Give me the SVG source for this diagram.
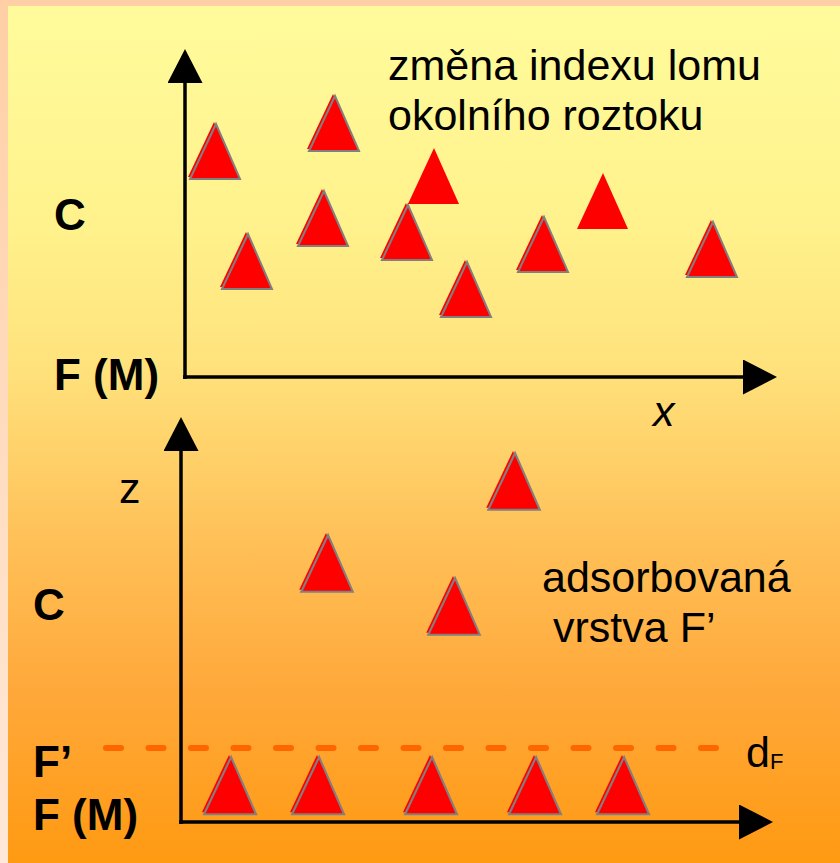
<svg xmlns="http://www.w3.org/2000/svg" xmlns:xlink="http://www.w3.org/1999/xlink" width="840" height="863" viewBox="0 0 840 863">
  <defs>
    <linearGradient id="bg" x1="0" y1="0" x2="0" y2="1">
      <stop offset="0" stop-color="#FFFB9C"/>
      <stop offset="0.25" stop-color="#FFF28C"/>
      <stop offset="0.42" stop-color="#FFE27C"/>
      <stop offset="0.6" stop-color="#FFC45C"/>
      <stop offset="0.8" stop-color="#FFA83A"/>
      <stop offset="1" stop-color="#FF9A12"/>
    </linearGradient>
    <linearGradient id="border" x1="0" y1="0" x2="0" y2="1">
      <stop offset="0" stop-color="#FFCFA5"/>
      <stop offset="1" stop-color="#FFE8D8"/>
    </linearGradient>
    <marker id="arrow" viewBox="0 0 34 35" refX="0" refY="17.5" markerWidth="34" markerHeight="35" markerUnits="userSpaceOnUse" orient="auto">
      <path d="M0,0 L34,17.5 L0,35 z" fill="#000"/>
    </marker>
    <g id="tri">
      <polygon points="0,0 -26,55 24,55" fill="#FF0000"/>
      <polygon points="2,2 -24,57 26,57" fill="#FF0000" stroke="#808080" stroke-width="2"/>
    </g>
    <polygon id="plain" points="0,0 -26,56 25,56" fill="#FF0000"/>
  </defs>
  <style>
    .axis { stroke: #000; stroke-width: 3.5; fill: none; marker-end: url(#arrow); }
    .lbl { font-family: "Liberation Sans", Arial, sans-serif; fill: #000; }
    .bold { font-weight: bold; font-size: 44px; }
    .reg { font-size: 43px; }
  </style>

  <rect x="0" y="0" width="840" height="863" fill="url(#border)"/>
  <rect x="8" y="6" width="832" height="857" fill="url(#bg)"/>

  <g id="connectors">
    <line class="axis" x1="185" y1="379" x2="185" y2="83"/>
    <line class="axis" x1="183" y1="377" x2="743" y2="377"/>
    <line class="axis" x1="181" y1="824" x2="181" y2="451"/>
    <line class="axis" x1="179" y1="822" x2="739" y2="822"/>
    <line x1="106" y1="748" x2="716" y2="748" stroke="#FF6600" stroke-width="6" stroke-linecap="round" stroke-dasharray="15 27.5"/>
  </g>

  <g id="top-particles">
    <use xlink:href="#tri" x="214" y="122"/>
    <use xlink:href="#tri" x="333" y="94"/>
    <use xlink:href="#tri" x="246" y="232"/>
    <use xlink:href="#tri" x="322" y="189"/>
    <use xlink:href="#tri" x="406" y="203"/>
    <use xlink:href="#tri" x="465" y="260"/>
    <use xlink:href="#tri" x="542" y="215"/>
    <use xlink:href="#tri" x="711" y="220"/>
    <use xlink:href="#plain" x="434" y="148"/>
    <use xlink:href="#plain" x="603" y="173"/>
  </g>

  <g id="bottom-particles">
    <use xlink:href="#tri" transform="translate(513,451) scale(1.03)"/>
    <use xlink:href="#tri" transform="translate(326,533) scale(1.03)"/>
    <use xlink:href="#tri" transform="translate(453,576) scale(1.03)"/>
    <use xlink:href="#tri" transform="translate(229,755) scale(1.04)"/>
    <use xlink:href="#tri" transform="translate(317,755) scale(1.04)"/>
    <use xlink:href="#tri" transform="translate(430,755) scale(1.04)"/>
    <use xlink:href="#tri" transform="translate(534,755) scale(1.04)"/>
    <use xlink:href="#tri" transform="translate(622,755) scale(1.04)"/>
  </g>

  <g id="labels">
    <text class="lbl reg" x="388" y="80">změna indexu lomu</text>
    <text class="lbl reg" x="388" y="130">okolního roztoku</text>
    <text class="lbl bold" x="54" y="230">C</text>
    <text class="lbl bold" x="54" y="390">F (M)</text>
    <text class="lbl reg" x="653" y="426" font-style="italic" font-size="44">x</text>
    <text class="lbl reg" x="119" y="503" font-size="41">z</text>
    <text class="lbl bold" x="33" y="620">C</text>
    <text class="lbl reg" x="542" y="592" font-size="42">adsorbovaná</text>
    <text class="lbl reg" x="553" y="642" font-size="42">vrstva F’</text>
    <text class="lbl bold" x="33" y="777">F’</text>
    <text class="lbl bold" x="33" y="830">F (M)</text>
    <text class="lbl reg" x="746" y="767" font-size="42">d<tspan font-size="22" dy="2">F</tspan></text>
  </g>
</svg>
